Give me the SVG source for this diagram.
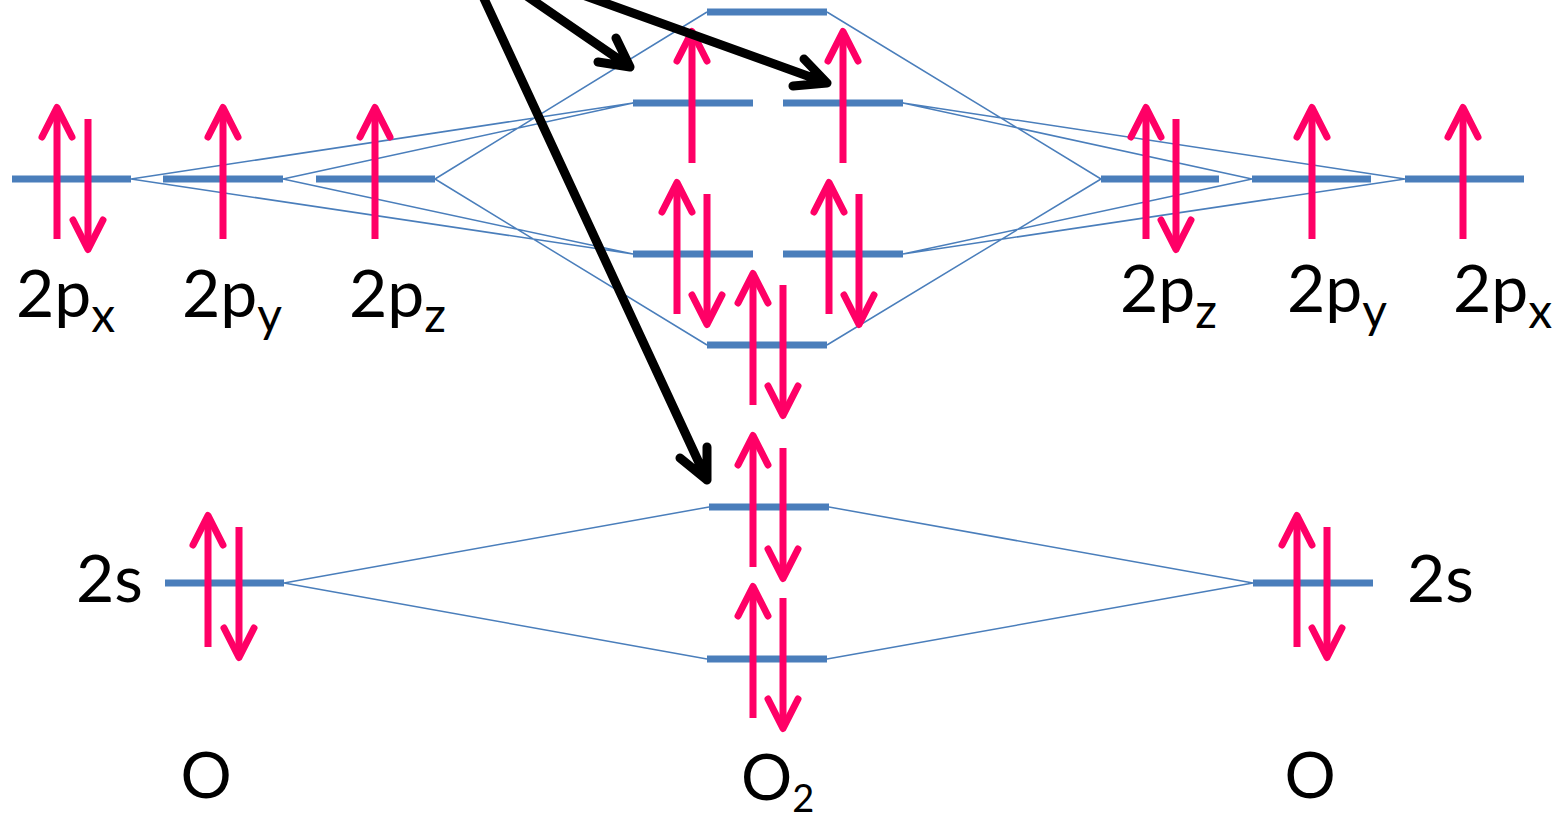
<svg xmlns="http://www.w3.org/2000/svg" xmlns:xlink="http://www.w3.org/1999/xlink" width="1553" height="819" viewBox="0 0 1553 819">
<style>
.bar{stroke:#4a7ebb;stroke-width:7;fill:none}
.thin{stroke:#4a7ebb;stroke-width:1.5;fill:none}
.shaft{stroke:#ff0066;stroke-width:7;fill:none}
.head{stroke:#ff0066;stroke-width:7;fill:none;stroke-linecap:round;stroke-linejoin:round}
.blk{stroke:#000;stroke-width:9;fill:none;stroke-linecap:round;stroke-linejoin:round}
.lbl{font-family:Lato,"Open Sans",sans-serif;fill:#000}
</style>
<defs>
<g id="up"><path class="shaft" d="M0 135 V4"/><path class="head" d="M-15 33 L0 3.5 L15 33"/></g>
<g id="dn"><path class="shaft" d="M0 0 V130"/><path class="head" d="M-15 101 L0 130.5 L15 101"/></g>
</defs>
<rect width="1553" height="819" fill="#fff"/>
<g id="connectors">
<path class="thin" d="M131 179 L633 103 M131 179 L633 254 M283 179 L633 103 M283 179 L633 254 M435 179 L707 12 M435 179 L707 345"/>
<path class="thin" d="M1405 179 L903 103 M1405 179 L903 254 M1252 179 L903 103 M1252 179 L903 254 M1101 179 L827 12 M1101 179 L827 345"/>
<path class="thin" d="M284 583 L709 507 M284 583 L707 659 M1253 583 L829 507 M1253 583 L827 659"/>
</g>
<g id="O-left-2px"><path class="bar" d="M12 179 H131"/><use xlink:href="#up" x="57" y="104"/><use xlink:href="#dn" x="88" y="119"/>
<text class="lbl" x="16" y="317" font-size="66">2p<tspan font-size="48" dy="15">x</tspan></text></g>
<g id="O-left-2py"><path class="bar" d="M163 179 H283"/><use xlink:href="#up" x="223" y="104"/>
<text class="lbl" x="182" y="317" font-size="66">2p<tspan font-size="48" dy="15">y</tspan></text></g>
<g id="O-left-2pz"><path class="bar" d="M316 179 H435"/><use xlink:href="#up" x="375" y="104"/>
<text class="lbl" x="349" y="317" font-size="66">2p<tspan font-size="48" dy="15">z</tspan></text></g>
<g id="O-right-2pz"><path class="bar" d="M1101 179 H1219"/><use xlink:href="#up" x="1146" y="104"/><use xlink:href="#dn" x="1176" y="119"/>
<text class="lbl" x="1120" y="312" font-size="66">2p<tspan font-size="48" dy="16">z</tspan></text></g>
<g id="O-right-2py"><path class="bar" d="M1252 179 H1371"/><use xlink:href="#up" x="1312" y="104"/>
<text class="lbl" x="1287" y="312" font-size="66">2p<tspan font-size="48" dy="16">y</tspan></text></g>
<g id="O-right-2px"><path class="bar" d="M1405 179 H1524"/><use xlink:href="#up" x="1463" y="104"/>
<text class="lbl" x="1453" y="312" font-size="66">2p<tspan font-size="48" dy="16">x</tspan></text></g>
<g id="MO-sigma-star-2p"><path class="bar" d="M707 12 H827"/></g>
<g id="MO-pi-star"><path class="bar" d="M633 103 H753 M783 103 H903"/><use xlink:href="#up" x="692" y="28"/><use xlink:href="#up" x="843" y="28"/></g>
<g id="MO-pi"><path class="bar" d="M633 254 H753 M783 254 H903"/><use xlink:href="#up" x="677" y="179"/><use xlink:href="#dn" x="707" y="194"/><use xlink:href="#up" x="829" y="179"/><use xlink:href="#dn" x="859" y="194"/></g>
<g id="MO-sigma-2p"><path class="bar" d="M707 345 H827"/><use xlink:href="#up" x="753" y="270"/><use xlink:href="#dn" x="783" y="285"/></g>
<g id="MO-sigma-star-2s"><path class="bar" d="M709 507 H829"/><use xlink:href="#up" x="753" y="432"/><use xlink:href="#dn" x="783" y="448"/></g>
<g id="MO-sigma-2s"><path class="bar" d="M707 659 H827"/><use xlink:href="#up" x="753" y="583"/><use xlink:href="#dn" x="783" y="598"/></g>
<g id="O-left-2s"><path class="bar" d="M165 583 H284"/><use xlink:href="#up" x="208" y="512"/><use xlink:href="#dn" x="239" y="527"/>
<text class="lbl" x="76" y="602" font-size="66">2s</text></g>
<g id="O-right-2s"><path class="bar" d="M1253 583 H1373"/><use xlink:href="#up" x="1297" y="512"/><use xlink:href="#dn" x="1327" y="527"/>
<text class="lbl" x="1407" y="602" font-size="66">2s</text></g>
<g id="label-O-left"><text class="lbl" x="206" y="798" font-size="64" text-anchor="middle">O</text></g>
<g id="label-O-right"><text class="lbl" x="1310" y="798" font-size="64" text-anchor="middle">O</text></g>
<g id="label-O2"><text class="lbl" x="741" y="800" font-size="64">O<tspan font-size="38" dy="12">2</tspan></text></g>
<g id="pointers">
<path class="blk" d="M480 -10 L707 480 M680 458 L707 480 L707 447"/>
<path class="blk" d="M518 -10 L630 67 M598 62 L630 67 L616 38"/>
<path class="blk" d="M569 -10 L827 83 M793 86 L827 83 L804 59"/>
</g>
</svg>
